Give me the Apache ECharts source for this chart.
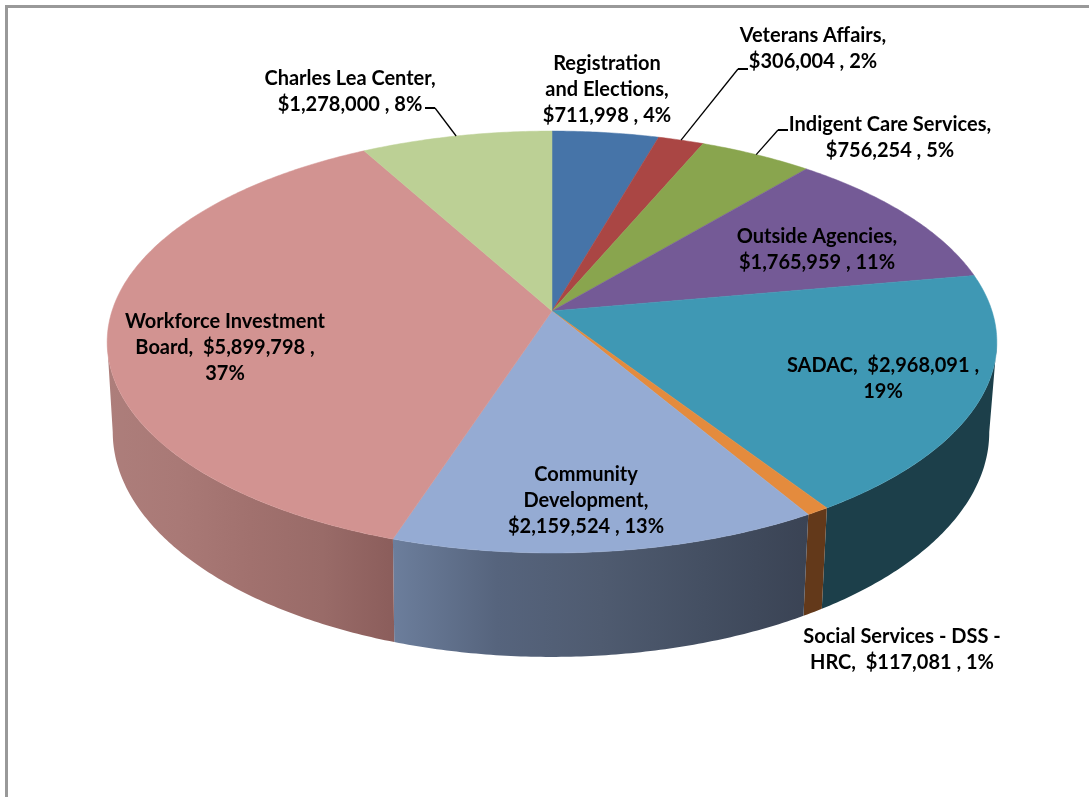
<!DOCTYPE html>
<html>
<head>
<meta charset="utf-8">
<title>Budget by agency</title>
<script src="https://cdn.jsdelivr.net/npm/echarts@6/dist/echarts.min.js"></script>
<style>
  html, body { margin: 0; padding: 0; background: #fff; }
  #main { width: 1089px; height: 797px; }
</style>
</head>
<body>
<div id="main"></div>
<script>
// clockwise from 12 o'clock, same order as the picture
const names = [
  "Registration and Elections",
  "Veterans Affairs",
  "Indigent Care Services",
  "Outside Agencies",
  "SADAC",
  "Social Services - DSS - HRC",
  "Community Development",
  "Workforce Investment Board",
  "Charles Lea Center"
];
const amounts = [711998, 306004, 756254, 1765959, 2968091, 117081, 2159524, 5899798, 1278000];
const percents = [4, 2, 5, 11, 19, 1, 13, 37, 8];
const topColors = ["#4674a8", "#aa4644", "#89a54e", "#745a96", "#3f98b4", "#e48b3d", "#95abd3", "#d29391", "#bcd095"];

// wall shading, left to right. only the front slices are seen
const wallStops = {
  4: ["#1c3f4a", "#1c3f4a"],
  5: ["#63391a", "#63391a"],
  6: ["#6c7e9c", "#56647d", "#4f5b70", "#444f62", "#3a4354"],
  7: ["#ad7e7b", "#a97976", "#a1716e", "#996b68", "#8b5d5b"]
};

const money = v => "$" + v.toLocaleString("en-US");

// how each label wraps, and where it sits
const labels = [
  { i: 0, x: 607, y: 90, text: (n, m, p) => "Registration\nand Elections,\n" + m + " , " + p },
  { i: 1, x: 813, y: 49, text: (n, m, p) => n + ",\n" + m + " , " + p, stub: [[748, 69], [738, 69]] },
  { i: 2, x: 890, y: 138, text: (n, m, p) => n + ",\n" + m + " , " + p, stub: [[788, 130], [778, 130]] },
  { i: 3, x: 817, y: 250, text: (n, m, p) => n + ",\n" + m + " , " + p },
  { i: 4, x: 883, y: 379, text: (n, m, p) => n + ",  " + m + " ,\n" + p },
  { i: 5, x: 902, y: 650, text: (n, m, p) => "Social Services - DSS -\nHRC,  " + m + " , " + p },
  { i: 6, x: 586, y: 501, text: (n, m, p) => "Community\nDevelopment,\n" + m + " , " + p },
  { i: 7, x: 225, y: 348, text: (n, m, p) => "Workforce Investment\nBoard,  " + m + " ,\n" + p },
  { i: 8, x: 350, y: 92, text: (n, m, p) => n + ",\n" + m + " , " + p, stub: [[425, 108], [435, 108]] }
];

const total = amounts.reduce((a, b) => a + b, 0);
const starts = [];
amounts.reduce((sum, v, i) => { starts[i] = sum; return sum + v; }, 0);

// perspective circle: top and bottom plane of the disc
const K = 0.147;
const topPlane = { cx: 552, cy: 311, b: 440, a: 206.4 };
const bottomPlane = { cx: 551, cy: 399, b: 433.5, a: 220 };
// walls only face the viewer between these two angles
const FRONT_FROM = Math.acos(-K);
const FRONT_TO = Math.PI * 2 - FRONT_FROM;

function project(plane, rad) {
  const u = Math.sin(rad), v = Math.cos(rad), w = 1 + K * v;
  return [plane.cx + plane.b * u / w, plane.cy - plane.a * v / w];
}

function arcBetween(plane, a0, a1) {
  const steps = Math.max(2, Math.ceil((a1 - a0) / 0.01));
  const pts = [];
  for (let s = 0; s <= steps; s++) pts.push(project(plane, a0 + (a1 - a0) * s / steps));
  return pts;
}

function sliceAngles(i) {
  return [starts[i] / total * Math.PI * 2, (starts[i] + amounts[i]) / total * Math.PI * 2];
}

function midAngle(i) {
  return (starts[i] + amounts[i] / 2) / total * Math.PI * 2;
}

const sliceData = amounts.map((v, i) => ({ name: names[i], value: [i, v] }));

const option = {
  animation: false,
  backgroundColor: "#fff",
  graphic: [
    { type: "rect", shape: { x: 5, y: 5, width: 1084, height: 3 }, style: { fill: "#999" } },
    { type: "rect", shape: { x: 5, y: 5, width: 3, height: 792 }, style: { fill: "#999" } }
  ],
  series: [
    {
      // side walls
      type: "custom",
      coordinateSystem: "none",
      silent: true,
      z: 1,
      data: sliceData,
      renderItem(params, api) {
        const i = api.value(0);
        const stops = wallStops[i];
        if (!stops) return { type: "group", children: [] };
        const [a0, a1] = sliceAngles(i);
        const from = Math.max(a0, FRONT_FROM), to = Math.min(a1, FRONT_TO);
        return {
          type: "polygon",
          shape: { points: arcBetween(topPlane, from, to).concat(arcBetween(bottomPlane, from, to).reverse()) },
          style: {
            fill: new echarts.graphic.LinearGradient(0, 0, 1, 0,
              stops.map((c, k) => ({ offset: k / (stops.length - 1), color: c })))
          }
        };
      }
    },
    {
      // top face
      type: "custom",
      coordinateSystem: "none",
      silent: true,
      z: 2,
      data: sliceData,
      renderItem(params, api) {
        const i = api.value(0);
        const [a0, a1] = sliceAngles(i);
        return {
          type: "polygon",
          shape: { points: [[topPlane.cx, topPlane.cy]].concat(arcBetween(topPlane, a0, a1)) },
          style: { fill: topColors[i], stroke: topColors[i], lineWidth: 0.5 }
        };
      }
    },
    {
      // labels and leader lines
      type: "custom",
      coordinateSystem: "none",
      silent: true,
      z: 3,
      data: labels.map(l => ({ value: [l.i] })),
      renderItem(params) {
        const l = labels[params.dataIndex];
        const children = [{
          type: "text",
          style: {
            text: l.text(names[l.i], money(amounts[l.i]), percents[l.i] + "%"),
            x: l.x,
            y: l.y,
            align: "center",
            verticalAlign: "middle",
            font: 'bold 20px Lato, "Open Sans", sans-serif',
            lineHeight: 26,
            fill: "#000"
          }
        }];
        if (l.stub) {
          children.push({
            type: "polyline",
            shape: { points: [l.stub[1], project(topPlane, midAngle(l.i))] },
            style: { fill: null, stroke: "#000", lineWidth: 1.3 }
          });
          children.push({
            type: "polyline",
            shape: { points: l.stub },
            style: { fill: null, stroke: "#000", lineWidth: 2 }
          });
        }
        return { type: "group", children };
      }
    }
  ]
};

const chart = echarts.init(document.getElementById("main"));
chart.setOption(option);
</script>
</body>
</html>
